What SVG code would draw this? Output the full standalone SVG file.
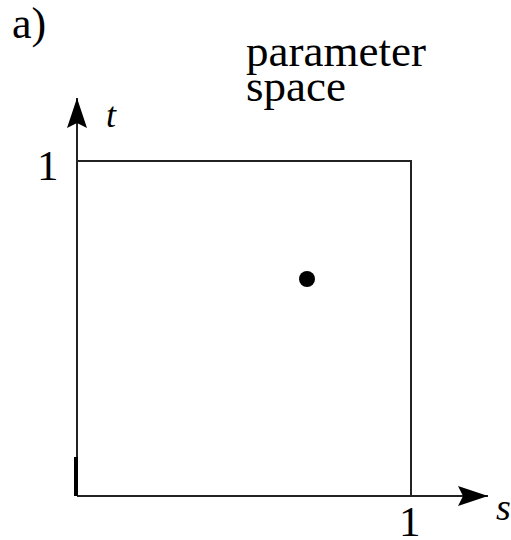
<svg xmlns="http://www.w3.org/2000/svg" width="511" height="540" viewBox="0 0 511 540">
<style>
.t{font-family:"Liberation Serif","Times New Roman",serif;fill:#000}
.ln{stroke:#222;stroke-width:2;fill:none}
</style>
<defs>
<marker id="ah" viewBox="0 0 30 20" refX="30" refY="10" markerWidth="30" markerHeight="20" markerUnits="userSpaceOnUse" orient="auto">
<path d="M0,0 L30,10 L0,20 L5,10 Z" fill="#000"/>
</marker>
</defs>
<rect width="511" height="540" fill="#fff"/>
<text class="t" x="12" y="38" font-size="44">a)</text>
<text class="t" x="246" y="66" font-size="45">parameter</text>
<text class="t" x="246" y="101" font-size="45">space</text>
<g id="connectors">
<line class="ln" x1="77" y1="496" x2="77" y2="98" marker-end="url(#ah)"/>
<line class="ln" x1="77" y1="496" x2="488" y2="496" marker-end="url(#ah)"/>
<rect x="74" y="457" width="4" height="39" fill="#000"/>
</g>
<g id="square">
<polyline class="ln" points="77,161 411,161 411,496"/>
</g>
<g id="point">
<circle cx="307" cy="279" r="8" fill="#000"/>
</g>
<text class="t" x="106" y="127" font-size="36" font-style="italic">t</text>
<text class="t" x="37" y="180" font-size="43">1</text>
<text class="t" x="399" y="536" font-size="43">1</text>
<text class="t" x="496" y="520" font-size="38" font-style="italic">s</text>
</svg>
